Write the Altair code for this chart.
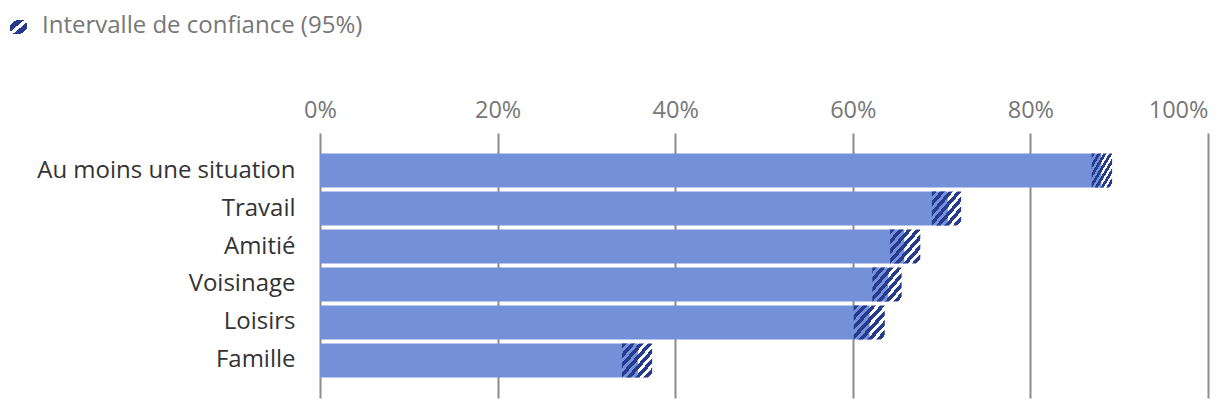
import altair as alt
import pandas as pd

categories = ["Au moins une situation", "Travail", "Amitié", "Voisinage", "Loisirs", "Famille"]
values = [88.0, 70.7, 65.8, 64.0, 61.9, 35.8]
ci_low = [86.9, 68.9, 64.2, 62.2, 60.1, 34.0]
ci_high = [89.2, 72.2, 67.6, 65.5, 63.6, 37.4]
tick_values = [0, 20, 40, 60, 80, 100]
legend_label = ["Intervalle de confiance (95%)"]

BAR = "#7490d8"
NAVY = "#263b8e"
CLEAR = "rgba(38,59,142,0)"
FONT = "Open Sans"

df = pd.DataFrame({
    "cat": categories,
    "val": [v / 100 for v in values],
    "lo": [v / 100 for v in ci_low],
    "hi": [v / 100 for v in ci_high],
})
leg = pd.DataFrame({"lab": legend_label})


def stripes(n, frac=0.5):
    stops = []
    for i in range(n):
        a = i / n
        b = (i + frac) / n
        c = (i + 1) / n
        stops += [
            alt.GradientStop(color=NAVY, offset=a),
            alt.GradientStop(color=NAVY, offset=b),
            alt.GradientStop(color=CLEAR, offset=b),
            alt.GradientStop(color=CLEAR, offset=c),
        ]
    return alt.LinearGradient(gradient="linear", stops=stops, x1=0, y1=0, x2=1, y2=1)


def icon_stripes():
    bands = [(0.0, 0.18, CLEAR), (0.18, 0.42, NAVY), (0.42, 0.58, CLEAR),
             (0.58, 0.82, NAVY), (0.82, 1.0, CLEAR)]
    stops = []
    for a, b, col in bands:
        stops += [alt.GradientStop(color=col, offset=a), alt.GradientStop(color=col, offset=b)]
    return alt.LinearGradient(gradient="linear", stops=stops, x1=0, y1=0, x2=1, y2=1)


x_enc = alt.X(
    "val:Q",
    title=None,
    scale=alt.Scale(domain=[0, 1]),
    axis=alt.Axis(
        orient="top",
        format="%",
        values=[t / 100 for t in tick_values],
        domain=False,
        ticks=False,
        tickSize=0,
        labelPadding=11,
        labelFontSize=23.5,
        labelFont=FONT,
        labelColor="#777777",
        labelAlign={"condition": {"test": "datum.value >= 1", "value": "right"}, "value": "center"},
        gridColor="#8c8c8c",
        gridWidth=2,
    ),
)
y_enc = alt.Y(
    "cat:N",
    title=None,
    sort=categories,
    scale=alt.Scale(paddingInner=0.105, paddingOuter=0.54),
    axis=alt.Axis(
        domain=False,
        ticks=False,
        tickSize=0,
        labelPadding=25,
        labelFontSize=24,
        labelFont=FONT,
        labelColor="#333333",
        labelLimit=0,
        grid=False,
    ),
)

base = alt.Chart(df)
bars = base.mark_bar(color=BAR).encode(x=x_enc, y=y_enc)
ci = base.mark_bar(color=stripes(7, 0.55)).encode(x="lo:Q", x2="hi:Q", y=alt.Y("cat:N", sort=categories))

leg_icon = alt.Chart(leg).mark_rect(color=icon_stripes()).encode(
    x=alt.value(-310), x2=alt.value(-293), y=alt.value(-113), y2=alt.value(-99)
)
leg_text = alt.Chart(leg).mark_text(
    align="left", baseline="middle", fontSize=24, font=FONT, color="#777777"
).encode(x=alt.value(-278), y=alt.value(-107), text="lab:N")

chart = alt.layer(bars, ci, leg_icon, leg_text).properties(
    width=888,
    height=265,
    padding={"left": 312, "top": 125, "right": 4, "bottom": 4},
    autosize=alt.AutoSizeParams(type="none"),
).configure_view(strokeWidth=0)

chart.save("out.html", embed_options={"renderer": "svg", "actions": False})
